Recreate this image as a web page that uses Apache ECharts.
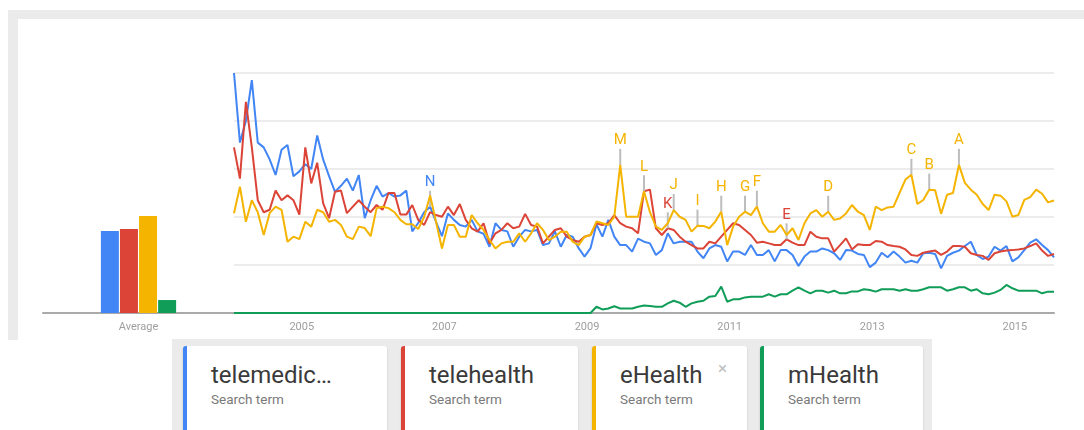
<!DOCTYPE html>
<html>
<head>
<meta charset="utf-8">
<script src="https://cdn.jsdelivr.net/npm/echarts@6/dist/echarts.min.js"></script>
<style>
  html, body { margin: 0; padding: 0; background: #fff; width: 1084px; height: 430px; overflow: hidden; font-family: Roboto, "Liberation Sans", Arial, sans-serif; }
  #frame { position: absolute; left: 8px; top: 10px; width: 1076px; height: 330px; background: #ebebeb; }
  #inner { position: absolute; left: 18px; top: 19px; width: 1066px; height: 321px; background: #fff; }
  #chart { position: absolute; left: 0; top: 0; width: 1084px; height: 430px; }
  #legend { position: absolute; left: 172px; top: 339px; width: 760px; height: 91px; background: #ebebeb; overflow: hidden; }
  .card { position: absolute; top: 7px; height: 100px; background: #fff; border-radius: 3px; box-shadow: 0 1px 2px rgba(0,0,0,0.18); box-sizing: border-box; border-left: 4px solid; }
  .card .t { position: absolute; left: 24px; top: 15px; font-size: 24px; color: #3a3a3a; white-space: nowrap; }
  .card .s { position: absolute; left: 24px; top: 45px; font-size: 13.5px; color: #7a7a7a; white-space: nowrap; }
  .card .x { position: absolute; top: 12px; font-size: 17px; color: #bdbdbd; }
</style>
</head>
<body>
<div id="frame"></div>
<div id="inner"></div>
<div id="chart"></div>
<div id="legend"></div>
<script>
// ---- data ----
const terms = ['telemedic\u2026', 'telehealth', 'eHealth', 'mHealth'];
const colors = ['#4285f4', '#db4437', '#f4b400', '#0f9d58'];
const yearLabels = ['2005', '2007', '2009', '2011', '2013', '2015'];
const averages = [34.2, 35, 40.4, 5.4];

const months = [];
for (let y = 2004; y <= 2015; y++) {
  for (let m = 1; m <= 12; m++) {
    if (y === 2015 && m > 7) break;
    months.push(y + '-' + (m < 10 ? '0' + m : '' + m));
  }
}

const telemedicine = [
  100, 71, 80, 97, 71, 69, 64, 57.5, 68, 70,
  57, 59, 62, 60, 74, 64, 57, 50.5, 53, 56,
  51, 57.5, 39.5, 47, 53, 48.5, 50, 48.5, 49, 51,
  34, 37.5, 42, 44.3, 38, 32, 41.5, 38.8, 36.7, 36,
  38.8, 34, 33, 27.6, 37.4, 34.6, 34, 27.6, 31.8, 34.6,
  34, 34.6, 28.3, 29, 34, 27.6, 32.5, 31.8, 27, 23.5,
  27, 37, 31.8, 38.8, 31.8, 28.3, 28.3, 25.6, 31, 29.7,
  29, 24.2, 26.2, 33.2, 29, 29.7, 29.7, 29.7, 25.6, 22.8,
  26.9, 28.3, 27.6, 21.5, 25.6, 25.6, 24.2, 28.3, 24.2, 24.2,
  26.2, 21.5, 26.2, 26.2, 24.2, 19.6, 23.5, 25.6, 25.6, 26.9,
  26.2, 24.9, 22.1, 26.2, 26, 24.6, 24.2, 19.1, 21, 25.1,
  23.2, 25.6, 23.5, 21, 21.8, 21, 24.9, 25.1, 24.6, 18.6,
  23.8, 25.1, 26, 27.9, 29.7, 24.2, 22.5, 23.5, 27.6, 26,
  27.9, 21.5, 23.2, 26.2, 29.3, 30.7, 28.3, 26.2, 23.2
];
const telehealth = [
  69, 56, 88, 69, 47, 42, 43, 51, 47, 49,
  47, 41, 69, 54, 62.6, 45.8, 39.5, 50.5, 51, 41.6,
  44.3, 47, 44.3, 42, 45, 43, 50, 50, 41, 41,
  45, 38.8, 36.7, 42, 40.8, 40.1, 44.3, 40.8, 45.4, 38.8,
  35.3, 33.9, 37.4, 29, 33.2, 34.6, 37.4, 35.3, 36, 41.3,
  36.7, 36, 29, 31.8, 34.6, 35.3, 31.8, 30.4, 29.7, 31.8,
  32.5, 37.4, 36.7, 37.4, 40.8, 37.4, 36, 35.3, 33.2, 50.7,
  51.4, 35.3, 32.5, 35.3, 34.6, 31.8, 29.7, 28.3, 26.9, 26.9,
  29.7, 29, 31.8, 34.6, 37.4, 36.7, 34.6, 32.5, 29.3, 29.7,
  29, 28.3, 28.3, 30.7, 29.3, 28.3, 28.3, 33.9, 31.8, 31.1,
  31.1, 25.6, 28.3, 31.1, 26.5, 28.6, 28.3, 28.3, 30, 29.7,
  28.3, 27.9, 27.6, 26.5, 24.2, 23.8, 25.1, 25.6, 26, 24.2,
  25.6, 27.9, 27.9, 27.6, 24.9, 24.2, 23.8, 22.1, 24.9, 25.6,
  26, 26.2, 26.5, 26.9, 27.9, 29, 26, 23.8, 24.6
];
const ehealth = [
  41.6, 52.6, 38, 47, 42, 32.5, 41.6, 44.3, 43, 29.7,
  31.8, 30.8, 38, 36, 43, 42, 38, 38.8, 36.7, 31.8,
  30.8, 36, 35.4, 32, 43.7, 44.3, 43.7, 42, 38.8, 37,
  37, 35, 40, 49, 38, 26.9, 36.7, 36.7, 31.8, 31.8,
  40.8, 37.4, 34.6, 30.4, 26.9, 29, 29.7, 29.7, 33.2, 29.7,
  33.2, 37.4, 34.6, 30.4, 31.8, 33.9, 33.9, 29.7, 28.3, 31.8,
  32.5, 38.1, 37.4, 36.7, 40.1, 61.7, 40.1, 40.1, 40.1, 50.7,
  42, 36, 34.6, 37.4, 42.9, 40.1, 38.8, 33.9, 36.4, 36.3,
  35.3, 38.1, 42.2, 28.3, 36, 40.1, 42.2, 40.8, 44.3, 37.4,
  33.9, 33.9, 36.7, 32.5, 35.3, 30.4, 37.4, 41.5, 42.9, 40.1,
  42.2, 38.8, 39.4, 41.5, 45, 42.2, 40.8, 34.6, 44.3, 42.9,
  44, 44.3, 50, 55.6, 57.6, 45.4, 47.1, 51.4, 51.1, 41.3,
  49.3, 50, 61.7, 54.2, 51.4, 49.3, 45.4, 42.9, 49.3, 48.9,
  46.5, 40.1, 40.8, 47.1, 48.3, 51.4, 49.7, 46.1, 46.9
];
const mhealth = [
  0, 0, 0, 0, 0, 0, 0, 0, 0, 0,
  0, 0, 0, 0, 0, 0, 0, 0, 0, 0,
  0, 0, 0, 0, 0, 0, 0, 0, 0, 0,
  0, 0, 0, 0, 0, 0, 0, 0, 0, 0,
  0, 0, 0, 0, 0, 0, 0, 0, 0, 0,
  0, 0, 0, 0, 0, 0, 0, 0, 0, 0,
  0, 2.6, 1.5, 1.9, 2.8, 1.9, 1.9, 1.9, 2.6, 3.1,
  2.9, 2.6, 2.6, 4, 5.1, 4.3, 2.6, 4, 4.7, 5.1,
  6.8, 7.1, 11, 4.7, 5.7, 5.7, 6.5, 6.8, 6.8, 6.8,
  7.8, 6.8, 7.8, 7.8, 9.3, 10.7, 9.3, 8.2, 9.3, 9.3,
  8.5, 9.3, 8.2, 8.2, 9, 9, 9.9, 9.6, 8.9, 9.9,
  9.9, 9.9, 9.3, 9.9, 9.3, 9.3, 9.9, 10.7, 10.7, 10.7,
  9.3, 9.9, 10.7, 10.7, 9.3, 9.9, 8.2, 7.8, 8.5, 9.6,
  11.7, 10.3, 9.3, 9.3, 9.3, 9.3, 8.2, 8.9, 8.9
];
const seriesData = [telemedicine, telehealth, ehealth, mhealth];

// annotation letters: [letter, series index, month]
const annotations = [
  ['N', 0, '2006-10'],
  ['K', 1, '2010-02'], ['E', 1, '2011-10'],
  ['M', 2, '2009-06'], ['L', 2, '2009-10'], ['J', 2, '2010-03'], ['I', 2, '2010-07'],
  ['H', 2, '2010-11'], ['G', 2, '2011-03'], ['F', 2, '2011-05'], ['D', 2, '2012-05'],
  ['C', 2, '2013-07'], ['B', 2, '2013-10'], ['A', 2, '2014-03']
];

// ---- legend cards ----
const cardPos = [[11, 204], [229, 177], [420, 155], [588, 163]];
const legend = document.getElementById('legend');
terms.forEach((t, i) => {
  const c = document.createElement('div');
  c.className = 'card';
  c.style.left = cardPos[i][0] + 'px';
  c.style.width = cardPos[i][1] + 'px';
  c.style.borderLeftColor = colors[i];
  c.innerHTML = '<div class="t"></div><div class="s">Search term</div>' + (i === 2 ? '<div class="x" style="left:122px">\u00d7</div>' : '');
  c.querySelector('.t').textContent = t;
  legend.appendChild(c);
});

// ---- chart ----
const chart = echarts.init(document.getElementById('chart'), null, { renderer: 'canvas' });
const fontFamily = 'Roboto, "Liberation Sans", Arial, sans-serif';

const series = [];
terms.forEach((t, i) => {
  series.push({
    type: 'bar', xAxisIndex: 0, yAxisIndex: 0,
    data: [averages[i]], barWidth: 18, barGap: '6%',
    itemStyle: { color: colors[i] }, silent: true
  });
});
terms.forEach((t, i) => {
  const marks = annotations.filter(a => a[1] === i).map(a => ({
    name: a[0], coord: [a[2], seriesData[i][months.indexOf(a[2])]]
  }));
  series.push({
    type: 'line', xAxisIndex: 1, yAxisIndex: 1, name: t,
    data: seriesData[i], showSymbol: false, symbol: 'none',
    lineStyle: { color: colors[i], width: 2 }, itemStyle: { color: colors[i] },
    z: 3 + i,
    markPoint: marks.length ? {
      symbol: 'rect', symbolSize: [2, 16], symbolOffset: [0, -8],
      itemStyle: { color: '#bdbdbd' },
      label: { show: true, position: 'top', distance: 1, formatter: '{b}', color: colors[i], fontSize: 15, fontFamily: fontFamily },
      data: marks, animation: false
    } : undefined
  });
});

chart.setOption({
  animation: false,
  backgroundColor: 'transparent',
  grid: [
    { left: 43, width: 191, top: 73, bottom: 117 },
    { left: 234, right: 30, top: 73, bottom: 117 }
  ],
  xAxis: [
    {
      gridIndex: 0, type: 'category', data: ['Average'],
      axisLine: { lineStyle: { color: '#aaaaaa', width: 2 } },
      axisTick: { show: false },
      axisLabel: { color: '#9e9e9e', fontSize: 11, margin: 9, fontFamily: fontFamily }
    },
    {
      gridIndex: 1, type: 'category', data: months, boundaryGap: false,
      axisLine: { lineStyle: { color: '#aaaaaa', width: 2 } },
      axisTick: { show: false },
      axisLabel: {
        color: '#9e9e9e', fontSize: 11, margin: 9, fontFamily: fontFamily,
        padding: [0, 7, 0, 0],
        interval: (idx, val) => val.endsWith('-01') && yearLabels.includes(val.slice(0, 4)),
        formatter: (val) => val.slice(0, 4)
      }
    }
  ],
  yAxis: [
    { gridIndex: 0, type: 'value', min: 0, max: 100, show: false },
    {
      gridIndex: 1, type: 'value', min: 0, max: 100, interval: 20,
      axisLine: { show: false }, axisTick: { show: false }, axisLabel: { show: false },
      splitLine: { lineStyle: { color: '#e6e6e6', width: 1.5 } }
    }
  ],
  series: series
});
</script>
</body>
</html>
